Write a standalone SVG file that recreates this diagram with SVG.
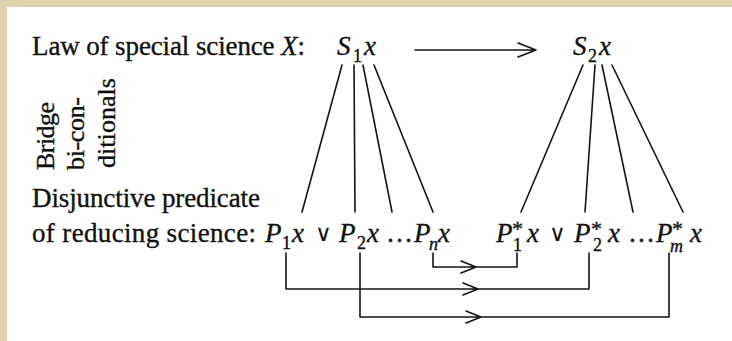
<svg xmlns="http://www.w3.org/2000/svg" width="732" height="341" viewBox="0 0 732 341">
<style>
text{font-family:"Liberation Serif","Times New Roman",serif;fill:#111111;stroke:#111111;stroke-width:0.35}
.t{font-size:27px}
.v{font-size:26px}
.m{font-size:27px;font-style:italic}
.s{font-size:18px;font-style:normal}
.si{font-size:18px;font-style:italic}
.st{font-size:22px;font-style:normal}
.or{font-family:"DejaVu Sans",sans-serif;font-size:23px;font-style:normal;font-weight:normal;stroke-width:0}
.dt{font-style:normal}
.ln{stroke:#141414;stroke-width:1.6;fill:none;stroke-linecap:round;stroke-linejoin:round}
</style>
<rect x="0" y="0" width="732" height="341" fill="#dfd2ae"/>
<rect x="7" y="7" width="725" height="334" fill="#ffffff"/>
<g id="label-law">
<text class="t" x="32" y="55" textLength="273" lengthAdjust="spacing">Law of special science <tspan font-style="italic">X</tspan>:</text>
</g>
<g id="label-bridge">
<text class="v" x="54" y="170" transform="rotate(-90 54 170)" textLength="68" lengthAdjust="spacing">Bridge</text>
<text class="v" x="84" y="170" transform="rotate(-90 84 170)" textLength="73" lengthAdjust="spacing">bi-con-</text>
<text class="v" x="115" y="168" transform="rotate(-90 115 168)" textLength="90" lengthAdjust="spacing">ditionals</text>
</g>
<g id="label-disjunctive">
<text class="t" x="32" y="207" textLength="228" lengthAdjust="spacing">Disjunctive predicate</text>
<text class="t" x="32" y="242" textLength="224" lengthAdjust="spacing">of reducing science:</text>
</g>
<g id="node-S1x">
<text class="m"><tspan x="337" y="55">S</tspan><tspan class="s" x="353" y="62">1</tspan><tspan x="364" y="55">x</tspan></text>
</g>
<g id="node-S2x">
<text class="m"><tspan x="573" y="55">S</tspan><tspan class="s" x="588" y="62">2</tspan><tspan x="599" y="55">x</tspan></text>
</g>
<g id="node-P">
<text class="m"><tspan x="265" y="242">P</tspan><tspan class="s" x="282" y="249">1</tspan><tspan x="292" y="242">x</tspan><tspan class="or" x="315" y="241">∨</tspan><tspan x="339" y="242">P</tspan><tspan class="s" x="357" y="249">2</tspan><tspan x="367" y="242">x</tspan><tspan class="dt" x="386" y="242">…</tspan><tspan x="414" y="242">P</tspan><tspan class="si" x="429" y="250">n</tspan><tspan x="438" y="242">x</tspan></text>
</g>
<g id="node-Pstar">
<text class="m"><tspan x="496" y="242">P</tspan><tspan class="st" x="512" y="236">*</tspan><tspan class="s" x="513" y="251">1</tspan><tspan x="527" y="242">x</tspan><tspan class="or" x="549" y="241">∨</tspan><tspan x="574" y="242">P</tspan><tspan class="st" x="591" y="236">*</tspan><tspan class="s" x="593" y="251">2</tspan><tspan x="608" y="242">x</tspan><tspan class="dt" x="628" y="242">…</tspan><tspan x="656" y="242">P</tspan><tspan class="st" x="672" y="236">*</tspan><tspan class="si" x="670" y="252">m</tspan><tspan x="690" y="242">x</tspan></text>
</g>
<g id="connectors" class="ln">
<path d="M415 50 H536 M518 43 L536 50 L518 57"/>
<path d="M342 65 L302 212 M354 65 L355 212 M363 65 L392 212 M374 65 L433 212"/>
<path d="M583 65 L521 212 M595 65 L585 212 M602 65 L633 212 M612 65 L683 212"/>
<path d="M433 253 V267 H517 V253 M461 261 L476 267 L461 273"/>
<path d="M286 253 V289 H589 V253 M463 283 L478 289 L463 295"/>
<path d="M360 253 V317 H669 V253 M466 311 L481 317 L466 323"/>
</g>
</svg>
